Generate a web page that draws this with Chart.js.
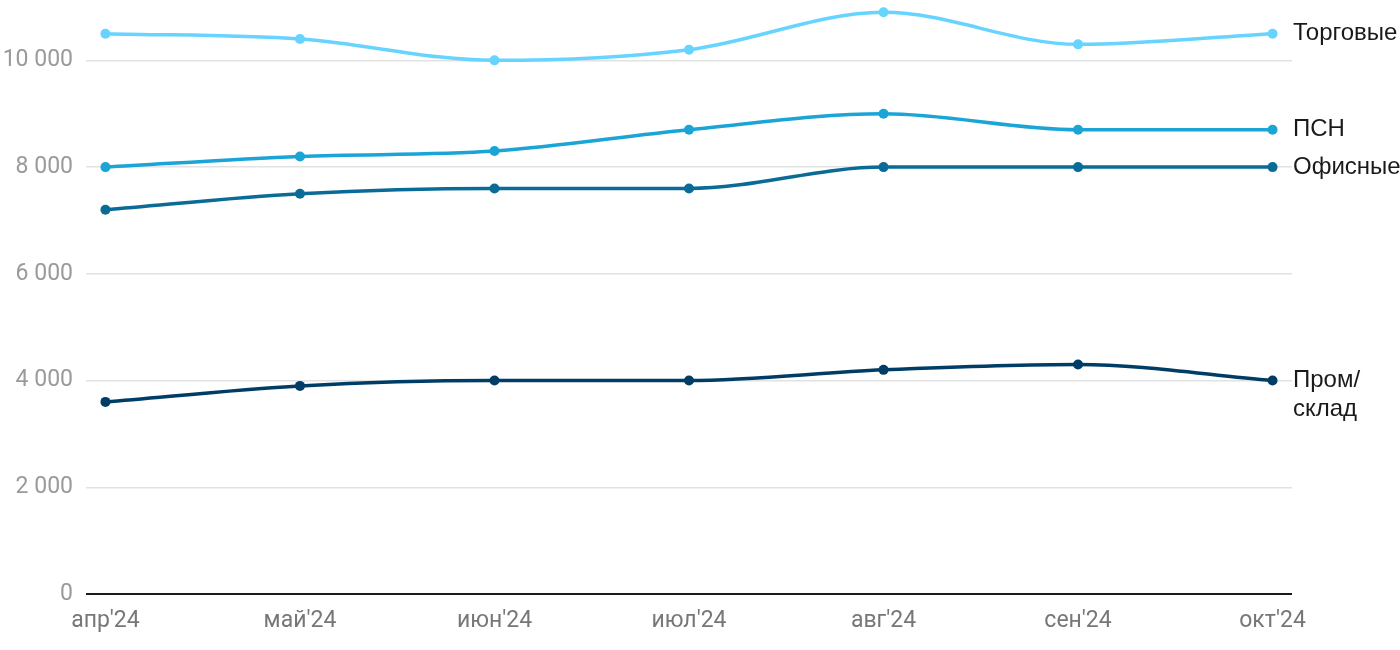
<!DOCTYPE html>
<html lang="ru">
<head>
<meta charset="utf-8">
<script src="https://cdn.jsdelivr.net/npm/chart.js@4"></script>
<style>
    body { margin: 0; background: #fff; }
    #wrap { width: 1400px; height: 650px; }
</style>
</head>
<body>
<div id="wrap"><canvas id="rentChart" width="1400" height="650"></canvas></div>
<script>
// ======================
// Data
// ======================
const months = ["апр'24", "май'24", "июн'24", "июл'24", "авг'24", "сен'24", "окт'24"];

const trade = [10500, 10400, 10000, 10200, 10900, 10300, 10500];
const psn = [8000, 8200, 8300, 8700, 9000, 8700, 8700];
const office = [7200, 7500, 7600, 7600, 8000, 8000, 8000];
const industrial = [3600, 3900, 4000, 4000, 4200, 4300, 4000];

const seriesNames = [['Торговые'], ['ПСН'], ['Офисные'], ['Пром/', 'склад']];
const seriesColors = ['#66d4ff', '#1ba4d6', '#0a6c96', '#003d66'];
const yTicks = [0, 2000, 4000, 6000, 8000, 10000];

function toPoints(arr) {
    return arr.map((v, i) => ({ x: i, y: v }));
}

function fmt(v) {
    return String(v).replace(/\B(?=(\d{3})+(?!\d))/g, ' ');
}

// ======================
// Right side labels
// ======================
const endLabels = {
    id: 'endLabels',
    afterDatasetsDraw(chart) {
        const ctx = chart.ctx;
        ctx.save();
        ctx.font = '24px "Liberation Sans", Arial, sans-serif';
        ctx.fillStyle = '#1a1a1a';
        ctx.textBaseline = 'middle';
        ctx.textAlign = 'left';
        chart.data.datasets.forEach((ds, i) => {
            const meta = chart.getDatasetMeta(i);
            const last = meta.data[meta.data.length - 1];
            seriesNames[i].forEach((line, j) => {
                ctx.fillText(line, chart.chartArea.right + 1, last.y + j * 29);
            });
        });
        ctx.restore();
    }
};

const allSeries = [trade, psn, office, industrial];

new Chart(document.getElementById('rentChart'), {
    type: 'line',
    data: {
        datasets: allSeries.map((arr, i) => ({
            label: seriesNames[i].join(''),
            data: toPoints(arr),
            borderColor: seriesColors[i],
            backgroundColor: seriesColors[i],
            pointBackgroundColor: seriesColors[i],
            pointBorderWidth: 0,
            pointRadius: 5,
            borderWidth: 3.5,
            cubicInterpolationMode: 'monotone',
            fill: false
        }))
    },
    options: {
        responsive: false,
        animation: false,
        layout: {
            padding: { top: 7, right: 108, bottom: 0, left: 0 }
        },
        scales: {
            x: {
                type: 'linear',
                min: -0.1,
                max: months.length - 1 + 0.1,
                grid: { display: false, drawTicks: false },
                border: { display: false },
                afterFit: (scale) => { scale.height = 56; },
                ticks: {
                    stepSize: 1,
                    includeBounds: false,
                    autoSkip: false,
                    maxRotation: 0,
                    padding: 13,
                    color: '#777',
                    font: { size: 23, family: 'Roboto' },
                    callback: (v) => Number.isInteger(v) ? months[v] : ''
                }
            },
            y: {
                min: 0,
                max: 11000,
                afterFit: (scale) => {
                    scale.width = 86;
                    scale.paddingTop = 0;
                    scale.paddingBottom = 0;
                },
                afterBuildTicks: (scale) => {
                    scale.ticks = yTicks.map(v => ({ value: v }));
                },
                border: { display: false },
                grid: {
                    drawTicks: false,
                    color: (c) => c.tick && c.tick.value === 0 ? '#1a1a1a' : '#e2e2e2',
                    lineWidth: (c) => c.tick && c.tick.value === 0 ? 2 : 1.5
                },
                ticks: {
                    padding: 13,
                    color: '#9a9a9a',
                    font: { size: 23, family: 'Roboto' },
                    callback: (v) => fmt(v)
                }
            }
        },
        plugins: {
            legend: { display: false },
            tooltip: { enabled: false }
        }
    },
    plugins: [endLabels]
});
</script>
</body>
</html>
